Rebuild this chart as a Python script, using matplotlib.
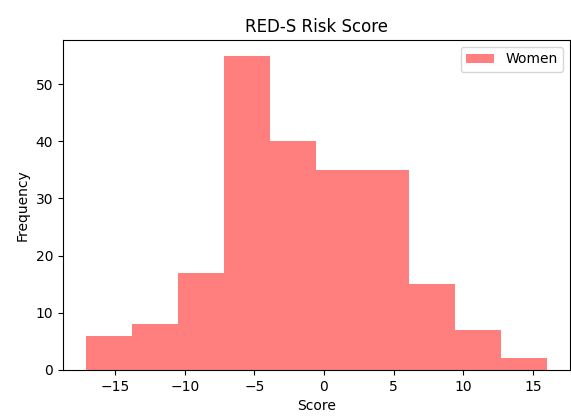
import matplotlib
matplotlib.use('Agg')
import matplotlib.pyplot as plt
import numpy as np

# histogram: 10 bins between -17.1 and 16.0
bin_edges = np.linspace(-17.1, 16.0, 11)
counts = [6, 8, 17, 55, 40, 35, 35, 15, 7, 2]

centers = (bin_edges[:-1] + bin_edges[1:]) / 2

fig = plt.figure(figsize=(5.71, 4.16), dpi=100)
ax = fig.add_axes([0.110, 0.111, 0.888, 0.793])

ax.hist(centers, bins=bin_edges, weights=counts, color="red", alpha=0.5, label="Women")

ax.set_title("RED-S Risk Score", fontsize=12)
ax.set_xlabel("Score")
ax.set_ylabel("Frequency")
ax.legend(loc="upper right")

fig.savefig("out.png", dpi=100)
